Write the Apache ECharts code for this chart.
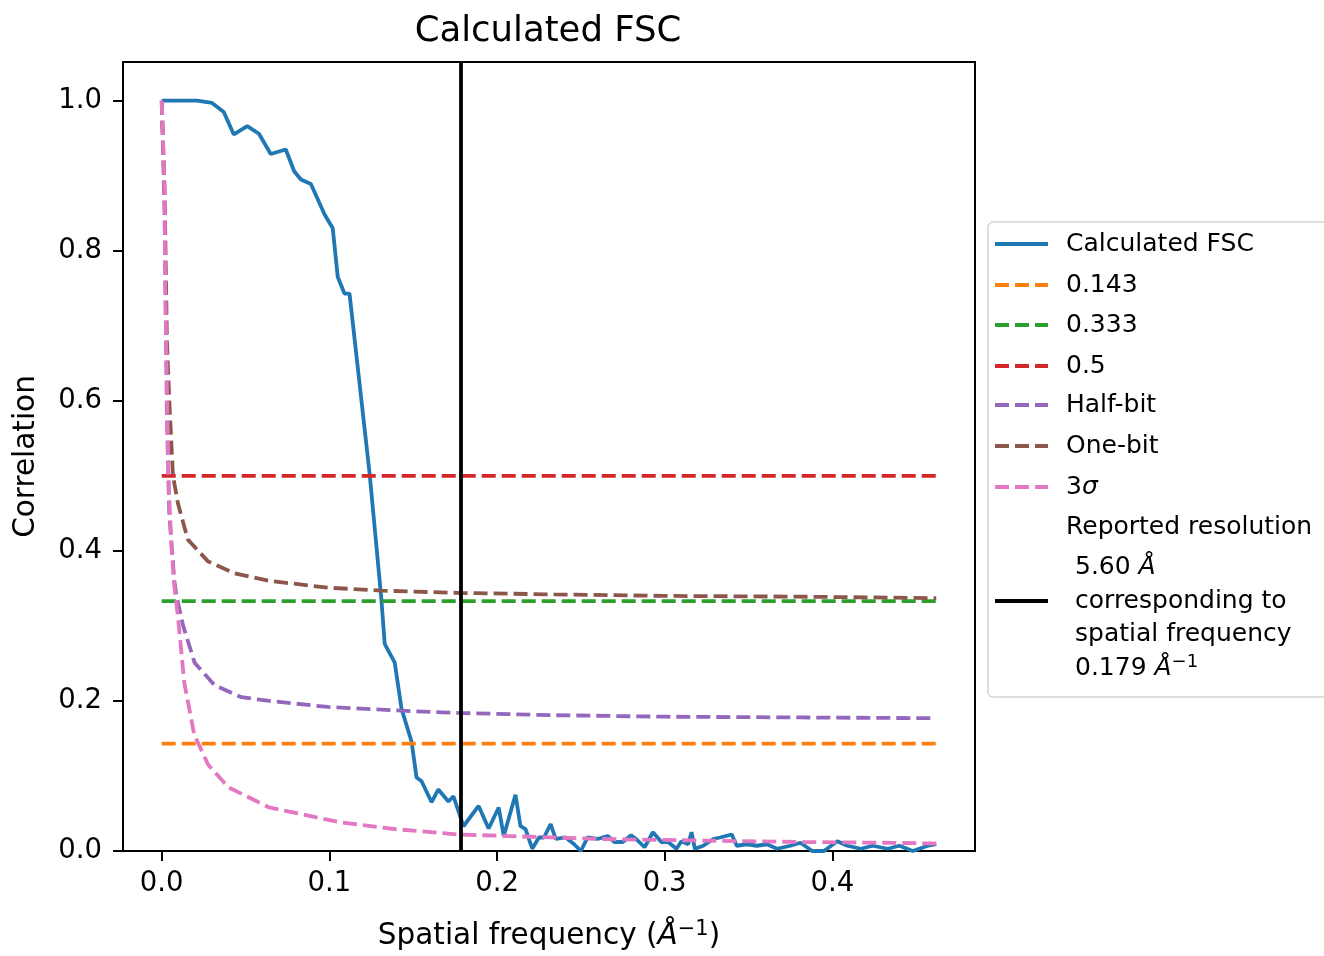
<!DOCTYPE html>
<html>
<head>
<meta charset="utf-8">
<script src="https://cdn.jsdelivr.net/npm/echarts@6/dist/echarts.min.js"></script>
<style>
  html, body { margin: 0; padding: 0; background: #fff; overflow: hidden; }
  #main { width: 1324px; height: 956px; }
</style>
</head>
<body>
<div id="main"></div>
<script>
// FSC curve
const fscFreq = [0, 0.009, 0.021, 0.030, 0.037, 0.043, 0.051, 0.058, 0.065, 0.074, 0.079, 0.083, 0.089, 0.097, 0.102, 0.105, 0.109, 0.112,
  0.124, 0.131, 0.133, 0.139, 0.143, 0.149, 0.152, 0.155, 0.161, 0.165, 0.171, 0.174, 0.177, 0.180, 0.189, 0.195, 0.201, 0.204,
  0.211, 0.214, 0.217, 0.221, 0.225, 0.228, 0.232, 0.235, 0.241, 0.246, 0.250, 0.254, 0.260, 0.266, 0.270, 0.275, 0.280, 0.283,
  0.288, 0.293, 0.298, 0.302, 0.307, 0.310, 0.314, 0.316, 0.318, 0.323, 0.329, 0.333, 0.340, 0.343, 0.349, 0.355, 0.361, 0.367,
  0.375, 0.381, 0.388, 0.395, 0.403, 0.409, 0.417, 0.424, 0.433, 0.440, 0.448, 0.457, 0.462];
const fscCorr = [1.000, 1.000, 1.000, 0.997, 0.985, 0.955, 0.966, 0.956, 0.929, 0.935, 0.906, 0.895, 0.889, 0.849, 0.830, 0.765, 0.743, 0.743,
  0.503, 0.336, 0.276, 0.251, 0.190, 0.146, 0.098, 0.093, 0.065, 0.082, 0.066, 0.073, 0.053, 0.033, 0.060, 0.030, 0.058, 0.020,
  0.075, 0.033, 0.029, 0.003, 0.018, 0.018, 0.036, 0.016, 0.018, 0.009, 0.000, 0.018, 0.016, 0.020, 0.012, 0.012, 0.021, 0.016,
  0.005, 0.025, 0.012, 0.012, 0.003, 0.013, 0.009, 0.025, 0.003, 0.007, 0.016, 0.018, 0.022, 0.007, 0.009, 0.007, 0.009, 0.003,
  0.007, 0.011, 0.000, 0.000, 0.013, 0.007, 0.003, 0.007, 0.003, 0.007, 0.000, 0.007, 0.009];

// threshold curves
const halfBitFreq = [0, 0.0017, 0.0031, 0.0045, 0.0075, 0.0088, 0.0128, 0.0196, 0.0315, 0.0474, 0.0643, 0.099, 0.143, 0.177, 0.234, 0.300, 0.380, 0.462];
const halfBitVals = [1.0, 0.85, 0.58, 0.45, 0.36, 0.340, 0.300, 0.251, 0.221, 0.205, 0.200, 0.192, 0.187, 0.184, 0.181, 0.179, 0.178, 0.177];
const oneBitFreq = [0, 0.0017, 0.0031, 0.0045, 0.0067, 0.0097, 0.0156, 0.0276, 0.0434, 0.0643, 0.099, 0.131, 0.177, 0.234, 0.300, 0.380, 0.462];
const oneBitVals = [1.0, 0.88, 0.68, 0.60, 0.50, 0.463, 0.415, 0.386, 0.370, 0.360, 0.351, 0.347, 0.344, 0.342, 0.340, 0.339, 0.337];
const sigmaFreq = [0, 0.0017, 0.0021, 0.0031, 0.0039, 0.0057, 0.0075, 0.0098, 0.0134, 0.0194, 0.0277, 0.0397, 0.0641, 0.107, 0.140, 0.177, 0.220, 0.262, 0.320, 0.380, 0.430, 0.462];
const sigmaVals = [1.0, 0.88, 0.75, 0.62, 0.50, 0.41, 0.353, 0.31, 0.225, 0.155, 0.115, 0.085, 0.058, 0.038, 0.029, 0.022, 0.019, 0.016, 0.014, 0.012, 0.011, 0.010];

const levelValues = [0.143, 0.333, 0.5];
const levelNames = ['0.143', '0.333', '0.5'];
const levelRange = [0, 0.462];
const resolutionFreq = 0.1786;

const xTicks = [0, 0.1, 0.2, 0.3, 0.4];
const yTicks = [0, 0.2, 0.4, 0.6, 0.8, 1.0];

const FONT = 'DejaVu Sans';
const colors = ['#1f77b4', '#ff7f0e', '#2ca02c', '#d62728', '#9467bd', '#8c564b', '#e377c2'];
const DASH = [14, 6];
const LW = 3.8;
const TICK_FS = 27.5;
const NAME_FS = 29.5;

const pairs = (xs, ys) => xs.map((x, i) => [x, ys[i]]);

const lineSeries = (name, data, color, dashed) => ({
  name: name,
  type: 'line',
  data: data,
  showSymbol: false,
  symbol: 'none',
  animation: false,
  emphasis: { disabled: true },
  lineStyle: { color: color, width: LW, type: dashed ? DASH : 'solid', cap: 'butt' }
});

const series = [
  lineSeries('Calculated FSC', pairs(fscFreq, fscCorr), colors[0], false)
];
levelValues.forEach((v, i) => {
  series.push(lineSeries(levelNames[i], levelRange.map(x => [x, v]), colors[1 + i], true));
});
series.push(lineSeries('Half-bit', pairs(halfBitFreq, halfBitVals), colors[4], true));
series.push(lineSeries('One-bit', pairs(oneBitFreq, oneBitVals), colors[5], true));
series.push(lineSeries('{n|3}{i|σ}', pairs(sigmaFreq, sigmaVals), colors[6], true));
// reported resolution
series.push({
  name: 'resolution',
  type: 'line',
  data: [],
  markLine: {
    silent: true,
    symbol: 'none',
    animation: false,
    precision: 4,
    label: { show: false },
    lineStyle: { color: '#000', width: LW, type: 'solid' },
    data: [{ xAxis: resolutionFreq }]
  }
});

// legend drawn by hand, matplotlib style
const legendX = 988, legendY = 222;
const handleX1 = 995, handleX2 = 1048, textX = 1066, textX2 = 1075;
const rowY = [244, 285, 325, 366, 405, 446, 487];
const legendFont = '25px "' + FONT + '"';
const rich = {
  n: { fontFamily: FONT, fontSize: 25, lineHeight: 30, fill: '#000', color: '#000' },
  i: { fontFamily: FONT, fontSize: 25, lineHeight: 30, fontStyle: 'italic', fill: '#000', color: '#000' },
  s: { fontFamily: FONT, fontSize: 18, lineHeight: 18, verticalAlign: 'top', fill: '#000', color: '#000' }
};
const graphic = [{
  type: 'rect', z: 100,
  shape: { x: legendX, y: legendY, width: 400, height: 475, r: 5 },
  style: { fill: 'rgba(255,255,255,0.8)', stroke: '#d4d4d4', lineWidth: 1.5 }
}];
const legendEntries = series.slice(0, 7);
legendEntries.forEach((s, i) => {
  graphic.push({
    type: 'line', z: 101,
    shape: { x1: handleX1, y1: rowY[i], x2: handleX2, y2: rowY[i] },
    style: { stroke: s.lineStyle.color, lineWidth: LW, lineDash: s.lineStyle.type === 'solid' ? null : DASH }
  });
  graphic.push({
    type: 'text', z: 101,
    style: { text: s.name, x: textX, y: rowY[i], font: legendFont, fill: '#000', verticalAlign: 'middle', rich: rich }
  });
});
const resLines = [
  { text: 'Reported resolution', x: textX, y: 527 },
  { text: '{n|5.60 }{i|Å}', x: textX2, y: 567 },
  { text: 'corresponding to', x: textX2, y: 601 },
  { text: 'spatial frequency', x: textX2, y: 634 },
  { text: '{n|0.179 }{i|Å}{s|−1}', x: textX2, y: 668 }
];
resLines.forEach(l => {
  graphic.push({
    type: 'text', z: 101,
    style: { text: l.text, x: l.x, y: l.y, font: legendFont, fill: '#000', verticalAlign: 'middle', rich: rich }
  });
});
graphic.push({
  type: 'line', z: 101,
  shape: { x1: handleX1, y1: 601, x2: handleX2, y2: 601 },
  style: { stroke: '#000', lineWidth: LW }
});

const chart = echarts.init(document.getElementById('main'));
chart.setOption({
  animation: false,
  backgroundColor: '#fff',
  title: {
    text: 'Calculated FSC',
    left: 543,
    top: 9,
    textAlign: 'center',
    textStyle: { fontFamily: FONT, fontSize: 35.5, fontWeight: 'normal', color: '#000' }
  },
  grid: {
    left: 123, top: 62, width: 852, height: 795,
    show: true, borderColor: '#000', borderWidth: 2
  },
  xAxis: {
    type: 'value',
    min: -0.0231,
    max: 0.4851,
    name: '{n|Spatial frequency (}{i|Å}{s|−1}{n|)}',
    nameLocation: 'middle',
    nameGap: 68,
    nameTextStyle: {
      rich: {
        n: { fontFamily: FONT, fontSize: NAME_FS, lineHeight: 34, color: '#000' },
        i: { fontFamily: FONT, fontSize: NAME_FS, lineHeight: 34, fontStyle: 'italic', color: '#000' },
        s: { fontFamily: FONT, fontSize: 21, lineHeight: 21, verticalAlign: 'top', color: '#000' }
      }
    },
    axisLine: { onZero: false, lineStyle: { color: '#000', width: 2 } },
    axisTick: { customValues: xTicks, length: 10, lineStyle: { color: '#000', width: 2 } },
    axisLabel: {
      customValues: xTicks, margin: 19,
      formatter: v => v.toFixed(1),
      fontFamily: FONT, fontSize: TICK_FS, color: '#000'
    },
    splitLine: { show: false }
  },
  yAxis: {
    type: 'value',
    min: 0,
    max: 1.0516,
    name: 'Correlation',
    nameLocation: 'middle',
    nameGap: 82,
    nameTextStyle: { fontFamily: FONT, fontSize: NAME_FS, color: '#000' },
    axisLine: { show: true, onZero: false, lineStyle: { color: '#000', width: 2 } },
    axisTick: { show: true, customValues: yTicks, length: 10, lineStyle: { color: '#000', width: 2 } },
    axisLabel: {
      customValues: yTicks, margin: 21,
      formatter: v => v.toFixed(1),
      fontFamily: FONT, fontSize: TICK_FS, color: '#000'
    },
    splitLine: { show: false }
  },
  series: series,
  graphic: graphic
});
</script>
</body>
</html>
